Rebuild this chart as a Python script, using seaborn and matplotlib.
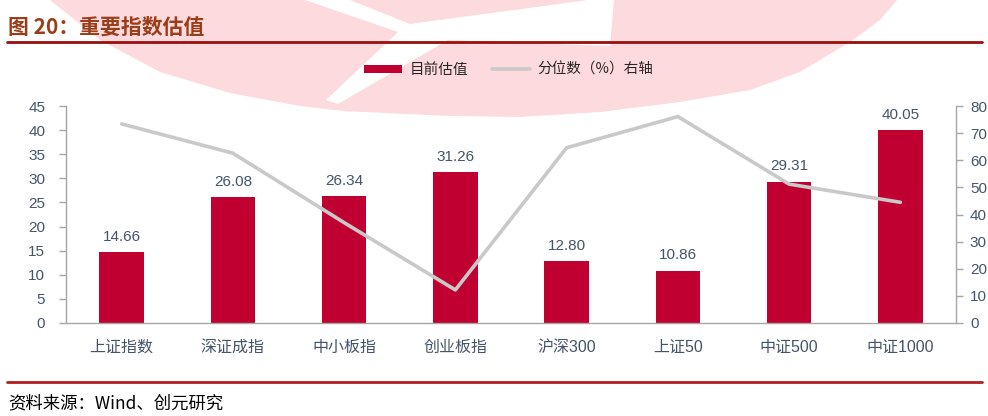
import numpy as np
import pandas as pd
import matplotlib
matplotlib.use("Agg")
import matplotlib.pyplot as plt
from matplotlib.patches import Polygon, Patch
from matplotlib.lines import Line2D
import seaborn as sns

# %%
# 数据
categories = ["上证指数", "深证成指", "中小板指", "创业板指", "沪深300", "上证50", "中证500", "中证1000"]
valuation = [14.66, 26.08, 26.34, 31.26, 12.80, 10.86, 29.31, 40.05]
percentile = [73.4, 62.6, 37.0, 12.2, 64.6, 76.1, 51.2, 44.5]

df = pd.DataFrame({"指数": categories, "目前估值": valuation, "分位数": percentile})
df["pos"] = range(len(df))

bar_color = "#C00030"
line_color = "#C9C9C9"
tick_color = "#44546A"
axis_color = "#A6A6A6"

sns.set_style("white")
plt.rcParams["font.family"] = ["Liberation Sans", "Noto Sans CJK SC", "DejaVu Sans"]

W, H = 988, 416
fig = plt.figure(figsize=(W / 100, H / 100), dpi=100)


def px(points):
    return [(x / W, 1 - y / H) for x, y in points]


# %%
# 背景水印
pink = [(50, 0), (100, 40), (160, 72), (230, 93), (300, 106), (343, 111), (450, 116),
        (520, 117), (600, 112), (680, 102), (750, 90), (800, 72), (850, 42),
        (880, 20), (897, 0)]
fig.patches.append(Polygon(px(pink), closed=True, transform=fig.transFigure,
                           facecolor="#FDDADD", edgecolor="none", zorder=-2))
bolt = [(305, 0), (350, 0), (410, 24), (588, 0), (614, 0), (610, 46), (448, 40),
        (338, 104), (326, 100), (398, 32)]
fig.patches.append(Polygon(px(bolt), closed=True, transform=fig.transFigure,
                           facecolor="white", edgecolor="none", zorder=-1))

# %%
ax = fig.add_axes([66 / W, 93 / H, 890 / W, 217 / H])
ax.patch.set_alpha(0)

sns.barplot(data=df, x="pos", y="目前估值", color=bar_color, saturation=1,
            width=0.4, ax=ax, edgecolor="none")
ax.bar_label(ax.containers[0], fmt="%.2f", padding=6, fontsize=11, color=tick_color)

ax.set_xlim(-0.5, len(df) - 0.5)
ax.set_ylim(0, 45)
ax.set_yticks(np.arange(0, 46, 5))
ax.set_xticks(df["pos"])
ax.set_xticklabels(categories)
ax.set_xticks(np.arange(-0.5, len(df), 1), minor=True)
ax.set_xlabel("")
ax.set_ylabel("")

ax.tick_params(axis="x", which="major", length=0, pad=12, labelsize=11.5, labelcolor=tick_color)
ax.tick_params(axis="x", which="minor", length=5, direction="out", color=axis_color, width=1)
ax.tick_params(axis="y", length=5, direction="out", color=axis_color, width=1,
               pad=10, labelsize=11, labelcolor=tick_color)

for s in ["top", "right"]:
    ax.spines[s].set_visible(False)
for s in ["left", "bottom"]:
    ax.spines[s].set_color(axis_color)
    ax.spines[s].set_linewidth(1)

# %%
ax2 = ax.twinx()
ax2.patch.set_alpha(0)
sns.lineplot(data=df, x="pos", y="分位数", color=line_color, linewidth=2.6, ax=ax2, sort=False)
ax2.set_ylim(0, 80)
ax2.set_yticks(np.arange(0, 81, 10))
ax2.set_ylabel("")
ax2.set_xlabel("")
ax2.tick_params(axis="y", length=5, direction="out", color=axis_color, width=1,
                pad=5, labelsize=11, labelcolor=tick_color)
for s in ["top", "left", "bottom"]:
    ax2.spines[s].set_visible(False)
ax2.spines["right"].set_color(axis_color)
ax2.spines["right"].set_linewidth(1)
ax2.set_xlim(-0.5, len(df) - 0.5)

# %%
# 图例
handles = [Patch(facecolor=bar_color, edgecolor="none"),
           Line2D([0], [0], color=line_color, linewidth=2.6)]
fig.legend(handles, ["目前估值", "分位数（%）右轴"], loc="center",
           bbox_to_anchor=(0.515, 1 - 70 / H), ncol=2, frameon=False,
           handlelength=2.6, handleheight=0.5, handletextpad=0.55, columnspacing=1.6,
           prop={"family": ["Noto Sans CJK SC", "DejaVu Sans"], "size": 10.5})

# 标题和来源
fig.text(8 / W, 1 - 27 / H, "图 20：重要指数估值", fontsize=15, fontweight="bold",
         color="#9A3D18", va="center", ha="left", family=["Noto Sans CJK SC", "DejaVu Sans"])
fig.add_artist(Line2D([7 / W, 982 / W], [1 - 42 / H, 1 - 42 / H], color="#9B0E0E",
                      linewidth=2, transform=fig.transFigure))
fig.add_artist(Line2D([7 / W, 982 / W], [1 - 382 / H, 1 - 382 / H], color="#B01E1E",
                      linewidth=2, transform=fig.transFigure))
fig.text(8 / W, 1 - 403 / H, "资料来源：Wind、创元研究", fontsize=12.5, color="black",
         va="center", ha="left", family=["Noto Sans CJK SC", "DejaVu Sans"])

fig.savefig("out.png", dpi=100)
